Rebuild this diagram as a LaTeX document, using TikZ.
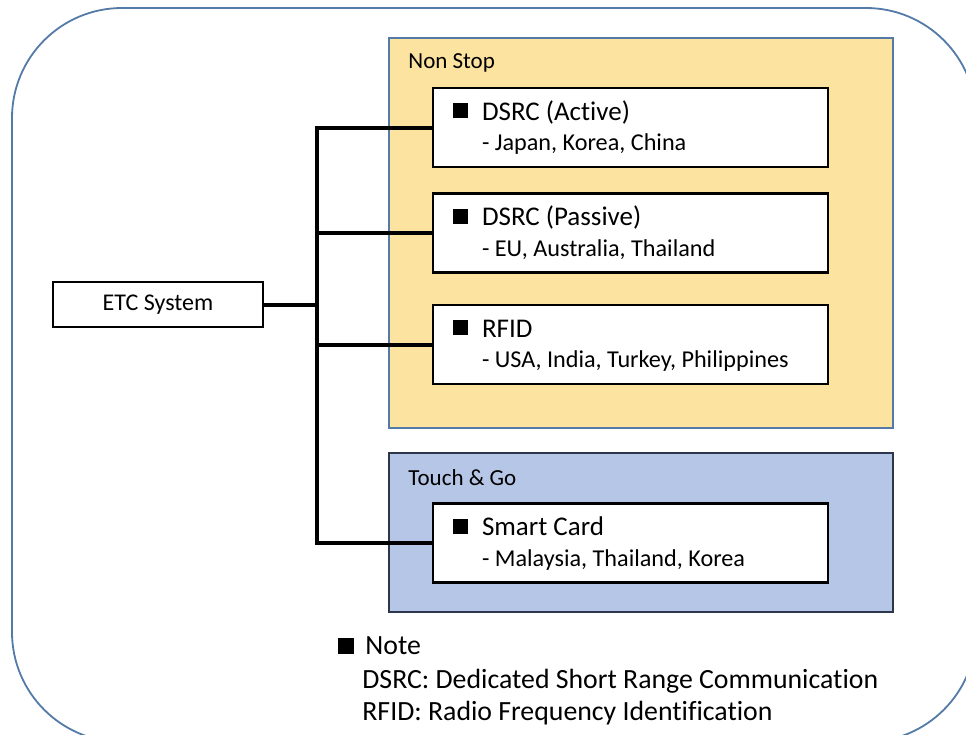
\documentclass[tikz,border=0pt]{standalone}
\usepackage{fontspec}
\setmainfont{Carlito}[Ligatures={NoCommon}]
\usetikzlibrary{positioning}
\definecolor{nonstopfill}{RGB}{252,227,160}
\definecolor{touchfill}{RGB}{182,198,230}
\definecolor{frameblue}{RGB}{84,122,168}
\definecolor{touchline}{RGB}{45,55,75}
\tikzset{
	grp/.style={line width=0.8pt, minimum width=252pt, inner sep=0pt},
	item/.style={draw=black, fill=white, line width=1.4pt, minimum width=197.5pt, minimum height=39.5pt, inner sep=0pt},
	bullet/.style={fill=black, minimum size=7.5pt, inner sep=0pt},
	head/.style={anchor=base west, inner sep=0pt, font=\fontsize{13.5}{16}\selectfont},
	sub/.style={anchor=base west, inner sep=0pt, font=\fontsize{12.1}{14}\selectfont},
	grplabel/.style={anchor=base west, inner sep=0pt, font=\fontsize{11.5}{14}\selectfont},
	note/.style={anchor=base west, inner sep=0pt, font=\fontsize{13.9}{16}\selectfont},
	wire/.style={line width=2pt, line cap=rect}
}
\begin{document}
\begin{tikzpicture}[x=0.5pt, y=-0.5pt]
	\useasboundingbox (0,0) rectangle (966,735);
	\clip (0,0) rectangle (966,735);
	\draw[frameblue, line width=0.9pt, rounded corners=55pt] (12,8) rectangle (976,742);

	% groups
	\node[grp, draw=frameblue, fill=nonstopfill, minimum height=195pt](nonstop) at (641,233){};
	\node[grp, draw=touchline, fill=touchfill, minimum height=79.5pt](touch) at (641,532.5){};
	\node[grplabel](nonstoplabel) at (408,68){Non Stop};
	\node[grplabel](touchlabel) at (408,485){Touch \& Go};

	% items
	\node[item](active) at (630.5,127.5){};
	\node[item](passive) at (630.5,233){};
	\node[item](rfid) at (630.5,344.5){};
	\node[item](smart) at (630.5,543){};
	\node[draw=black, fill=white, line width=1.4pt, minimum width=105pt, minimum height=22.5pt, inner sep=0pt, font=\fontsize{12}{14}\selectfont](etc) at (158,304.5){ETC System};

	\node[bullet](activeb) at ([xshift=14.25pt,yshift=8.5pt]active.west){};
	\node[head](activet) at ([xshift=25pt,yshift=3.75pt]active.west){DSRC (Active)};
	\node[sub](actives) at ([xshift=25pt,yshift=-11.5pt]active.west){- Japan, Korea, China};

	\node[bullet](passiveb) at ([xshift=14.25pt,yshift=8.5pt]passive.west){};
	\node[head](passivet) at ([xshift=25pt,yshift=3.75pt]passive.west){DSRC (Passive)};
	\node[sub](passives) at ([xshift=25pt,yshift=-11.5pt]passive.west){- EU, Australia, Thailand};

	\node[bullet](rfidb) at ([xshift=14.25pt,yshift=8.5pt]rfid.west){};
	\node[head](rfidt) at ([xshift=25pt,yshift=3.75pt]rfid.west){RFID};
	\node[sub](rfids) at ([xshift=25pt,yshift=-11.5pt]rfid.west){- USA, India, Turkey, Philippines};

	\node[bullet](smartb) at ([xshift=14.25pt,yshift=8.5pt]smart.west){};
	\node[head](smartt) at ([xshift=25pt,yshift=3.75pt]smart.west){Smart Card};
	\node[sub](smarts) at ([xshift=25pt,yshift=-11.5pt]smart.west){- Malaysia, Thailand, Korea};

	% connectors
	\coordinate (trunk) at (317,0);
	\draw[wire] (active.west) -- (active.west -| trunk) -- (smart.west -| trunk) -- (smart.west);
	\draw[wire] (passive.west) -- (passive.west -| trunk);
	\draw[wire] (rfid.west) -- (rfid.west -| trunk);
	\draw[wire] (etc.east) -- (etc.east -| trunk);

	% note
	\node[bullet, minimum size=8pt](noteb) at (346,646){};
	\node[note](notet) at (365,654){Note};
	\node[note](dsrc) at (362,688){DSRC: Dedicated Short Range Communication};
	\node[note](rfidn) at (362,720){RFID: Radio Frequency Identification};
\end{tikzpicture}
\end{document}
